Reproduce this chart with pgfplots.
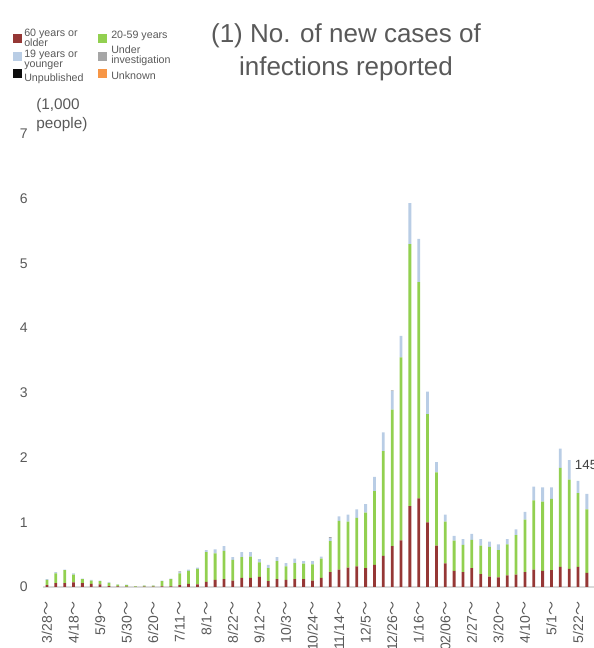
\documentclass[border=0pt]{standalone}
\usepackage{pgfplots}
\pgfplotsset{compat=1.18}
\usepackage{pgfplotstable}
\usepackage{fontspec}
\setmainfont{Liberation Sans}
\newfontfamily\cjk{Noto Sans CJK JP}
\definecolor{cOld}{HTML}{953735}
\definecolor{cMid}{HTML}{92D050}
\definecolor{cYoung}{HTML}{B9CDE5}
\definecolor{cInv}{HTML}{A6A6A6}
\definecolor{cUnp}{HTML}{0D0D0D}
\definecolor{cUnk}{HTML}{F79646}
\definecolor{txt}{HTML}{595959}
\definecolor{axl}{HTML}{D9D9D9}
\pgfplotstableread{
i R Gr B Gy
0 0.03 0.08 0.01 0
1 0.06 0.15 0.02 0
2 0.06 0.20 0.01 0
3 0.07 0.12 0.02 0
4 0.06 0.06 0.01 0
5 0.05 0.05 0.01 0
6 0.04 0.05 0.01 0
7 0.015 0.05 0.005 0
8 0.008 0.027 0.005 0
9 0.005 0.025 0.005 0
10 0.002 0.006 0.002 0
11 0.005 0.015 0.005 0
12 0.005 0.015 0.005 0
13 0.01 0.08 0.01 0
14 0.01 0.11 0.01 0
15 0.03 0.18 0.02 0.01
16 0.05 0.20 0.02 0
17 0.04 0.24 0.02 0
18 0.08 0.46 0.03 0
19 0.11 0.41 0.06 0
20 0.12 0.44 0.07 0
21 0.10 0.32 0.04 0
22 0.14 0.32 0.08 0
23 0.14 0.33 0.07 0
24 0.155 0.225 0.05 0
25 0.09 0.20 0.05 0
26 0.12 0.28 0.06 0
27 0.11 0.21 0.05 0
28 0.12 0.25 0.07 0
29 0.12 0.24 0.04 0
30 0.10 0.25 0.05 0
31 0.14 0.30 0.03 0
32 0.23 0.48 0.045 0.015
33 0.27 0.75 0.07 0
34 0.30 0.71 0.11 0
35 0.32 0.75 0.13 0
36 0.29 0.86 0.13 0
37 0.34 1.14 0.22 0
38 0.48 1.62 0.29 0
39 0.63 2.11 0.285 0.015
40 0.72 2.83 0.33 0
41 1.25 4.05 0.63 0
42 1.37 3.34 0.67 0
43 1.00 1.67 0.35 0
44 0.64 1.13 0.16 0
45 0.365 0.645 0.11 0
46 0.25 0.465 0.075 0
47 0.23 0.42 0.09 0
48 0.29 0.44 0.09 0
49 0.20 0.44 0.10 0
50 0.16 0.46 0.08 0
51 0.15 0.42 0.09 0
52 0.18 0.48 0.08 0
53 0.19 0.61 0.09 0
54 0.23 0.81 0.12 0
55 0.27 1.07 0.21 0
56 0.25 1.07 0.22 0
57 0.26 1.10 0.18 0
58 0.31 1.53 0.30 0
59 0.28 1.38 0.30 0
60 0.31 1.14 0.19 0
61 0.22 0.98 0.24 0
}\data
\newcommand{\w}{{\cjk ～}}
\begin{document}
\begin{tikzpicture}
\path[use as bounding box] (0,0) rectangle (444.75pt,486pt);
\begin{axis}[
  at={(32.25pt,45.75pt)}, anchor=south west,
  scale only axis, width=413.2pt, height=339.75pt,
  xmin=-0.45, xmax=61.8, ymin=0, ymax=7,
  ybar stacked, bar width=2.1pt,
  axis x line=bottom, axis y line=left,
  x axis line style={-, draw=axl, line width=1.6pt},
  y axis line style={draw=none},
  major tick length=0pt,
  ytick={0,...,7},
  xtick={0,3,...,60},
  xticklabels={3/28\w,4/18\w,5/9\w,5/30\w,6/20\w,7/11\w,8/1\w,8/22\w,9/12\w,10/3\w,10/24\w,11/14\w,12/5\w,12/26\w,1/16\w,02/06\w,2/27\w,3/20\w,4/10\w,5/1\w,5/22\w},
  tick label style={font=\fontsize{10.5}{12.5}\selectfont, text=txt},
  yticklabel style={anchor=east, inner sep=0pt, xshift=-11.25pt},
  xticklabel style={rotate=90, anchor=east, inner sep=0pt},
  xticklabel shift=11pt,
  /pgf/number format/assume math mode=true,
]
\addplot[fill=cOld, draw=none] table[x=i,y=R]{\data};
\addplot[fill=cMid, draw=none] table[x=i,y=Gr]{\data};
\addplot[fill=cYoung, draw=none] table[x=i,y=B]{\data};
\addplot[fill=cInv, draw=none] table[x=i,y=Gy]{\data};
\end{axis}
\node[align=center, text=txt, font=\fontsize{19.5}{24.75}\selectfont] at (259.5pt,447pt) {(1) No. of new cases of\\infections reported};
\node[anchor=north west, align=left, inner sep=0pt, text=txt, font=\fontsize{11.5}{14.25}\selectfont] at (27pt,412.5pt) {(1,000\\people)};
\fill[cOld] (9.75pt,453.75pt) rectangle (16.5pt,460.5pt);
\fill[cYoung] (9.75pt,440.25pt) rectangle (16.5pt,447pt);
\fill[cUnp] (9.75pt,427.5pt) rectangle (16.5pt,434.25pt);
\fill[cMid] (73.5pt,453.75pt) rectangle (80.25pt,460.5pt);
\fill[cInv] (73.5pt,440.25pt) rectangle (80.25pt,447pt);
\fill[cUnk] (73.5pt,427.5pt) rectangle (80.25pt,434.25pt);
\begin{scope}[every node/.style={anchor=west, align=left, inner sep=0pt, text=txt, font=\fontsize{8}{7.5}\selectfont}]
\node at (18pt,457.3pt) {60 years or\\older};
\node at (18pt,440.8pt) {19 years or\\younger};
\node at (18pt,427pt) {Unpublished};
\node at (83.25pt,459pt) {20-59 years};
\node at (83.25pt,444pt) {Under\\investigation};
\node at (83.25pt,429.5pt) {Unknown};
\end{scope}
\node[anchor=west, inner sep=0pt, text=black!75, font=\fontsize{10}{12}\selectfont] at (431pt,137pt) {1454};
\end{tikzpicture}
\end{document}
